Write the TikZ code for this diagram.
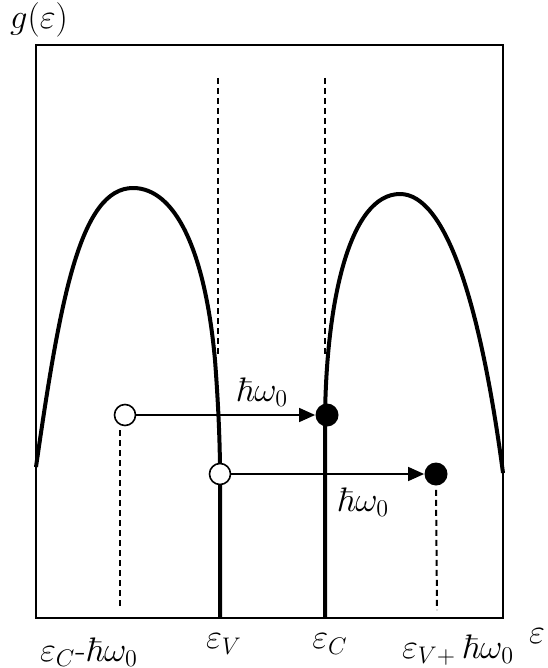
\documentclass[tikz,border=0pt]{standalone}
\usepackage{amsmath,amssymb}
\usetikzlibrary{arrows.meta}

\begin{document}
\begin{tikzpicture}[x=0.5pt,y=-0.5pt,
  hole/.style={circle,draw,fill=white,line width=0.8pt,inner sep=0pt,minimum size=10.5pt},
  elec/.style={circle,fill=black,inner sep=0pt,minimum size=11.5pt},
  band/.style={line width=2pt,line join=round},
  guide/.style={line width=1pt,dash pattern=on 3pt off 2pt},
  jump/.style={-{Triangle[length=8pt,width=7pt]},line width=0.75pt},
  lbl/.style={font=\fontsize{17}{20}\selectfont}]
\useasboundingbox (0,0) rectangle (547,668);
% ---- frame and band edges ----
\draw[line width=1pt] (36,45) rectangle (503,618);
\coordinate (vtop) at (218,78);  \coordinate (vmid) at (218,355);
\coordinate (ctop) at (325,78);  \coordinate (cmid) at (325,355);
\draw[guide] (vtop) -- (vmid);
\draw[guide] (ctop) -- (cmid);
% valence band g(eps), vertical at eps_V
\draw[band] (36,467) .. controls (60,300) and (80,188) .. (133,188)
  .. controls (175,188) and (205,250) .. (215,360)
  .. controls (218,400) and (220,440) .. (220,475) -- (220,618);
% conduction band, vertical at eps_C
\draw[band] (325,618) -- (325,420) .. controls (326,300) and (350,194) .. (400,194)
  .. controls (445,194) and (480,300) .. (503,473);
% ---- transitions ----
\node[hole] (open1) at (125,415) {};
\node[elec] (full1) at (327,415) {};
\node[hole] (open2) at (220,474) {};
\node[elec] (full2) at (436,474) {};
\draw[jump] (open1) -- (full1);
\draw[jump] (open2) -- (full2);
\node[lbl] (hw1) at (262,392) {$\hbar\omega_0$};
\node[lbl] (hw2) at (363,502) {$\hbar\omega_0$};
\coordinate (base1) at (120,610);
\coordinate (base2) at (437,610);
\draw[guide] (open1.south -| base1) ++(0,4) -- (base1);
\draw[guide] (full2.south) ++(0,4) -- (base2);
% ---- axis labels ----
\node[lbl] (gaxis) at (39,20) {$g(\varepsilon)$};
\node[lbl] (eaxis) at (537,636) {$\varepsilon$};
\node[lbl] (lab1) at (89,652) {$\varepsilon_C$-$\hbar\omega_0$};
\node[lbl] (labV) at (224,644) {$\varepsilon_V$};
\node[lbl] (labC) at (330,644) {$\varepsilon_C$};
\node[lbl] (lab2) at (458,650) {$\varepsilon_{V+}\,\hbar\omega_0$};
\end{tikzpicture}
\end{document}
